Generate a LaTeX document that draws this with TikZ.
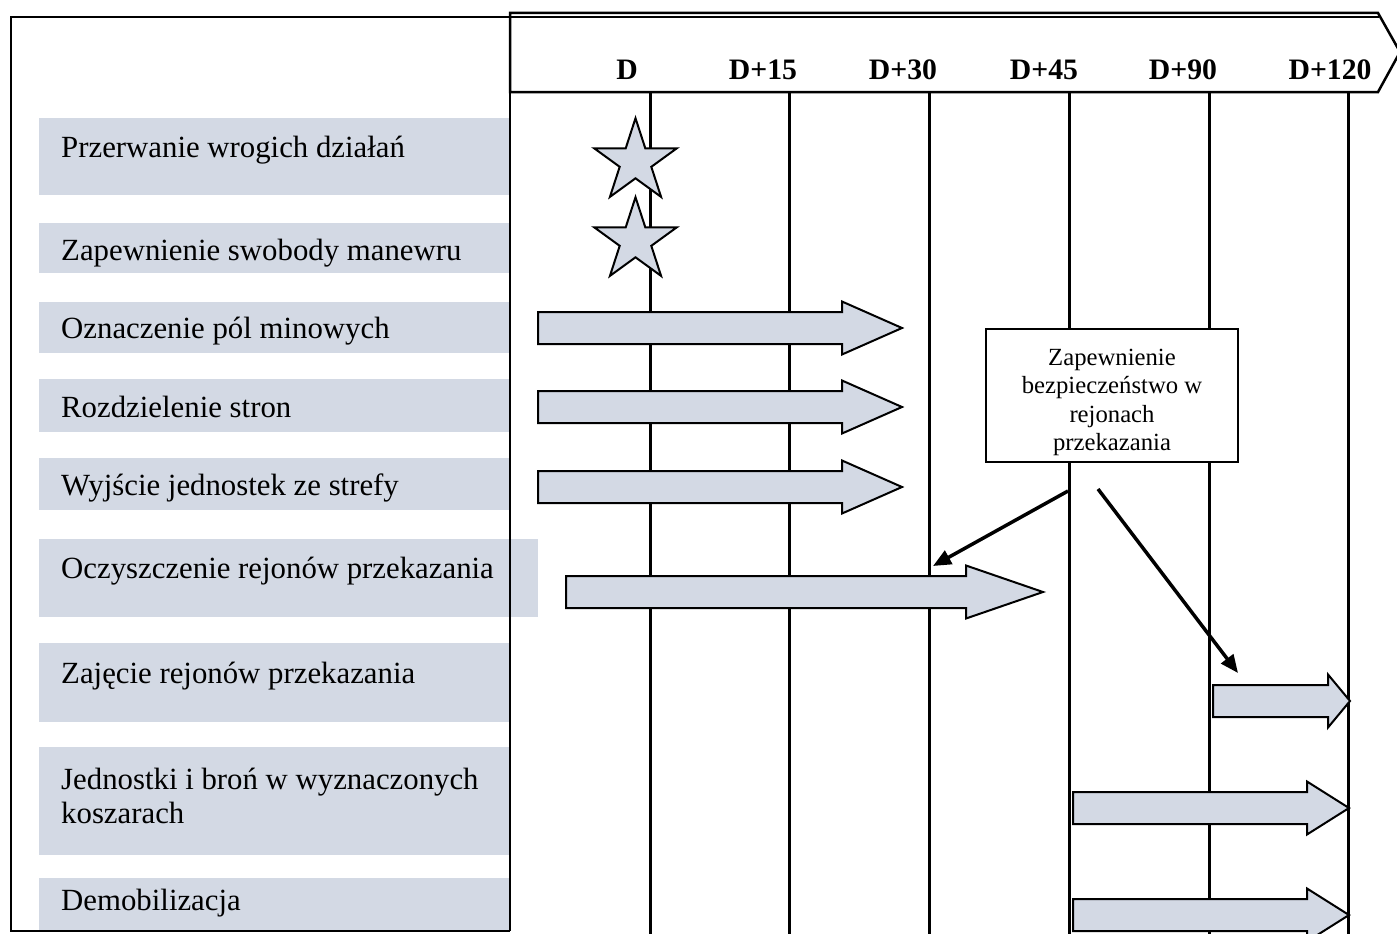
\documentclass[tikz,border=0pt]{standalone}
\usepackage{fontspec}
\setmainfont{Liberation Serif}
\usetikzlibrary{arrows.meta, positioning, shapes.geometric}
\definecolor{bandgray}{RGB}{211,217,228}
\tikzset{
  band/.style={fill=bandgray, inner sep=0pt, anchor=north west},
  lbl/.style={inner sep=0pt, align=left, font=\fontsize{30.8}{33.5}\selectfont},
  daylbl/.style={inner sep=0pt, anchor=base, font=\bfseries\fontsize{29.7}{32}\selectfont},
  frame/.style={line width=2.5pt},
  dayline/.style={line width=3pt},
  blk/.style={draw, fill=bandgray, line width=2pt, line join=miter},
  starmark/.style={star, star points=5, star point ratio=2.618, draw, fill=bandgray, line width=2pt, minimum size=87pt, inner sep=0pt},
  callbox/.style={rectangle, draw, fill=white, line width=2pt, align=center, minimum width=252pt, minimum height=133pt, inner sep=0pt, font=\fontsize{24.7}{28.5}\selectfont},
  line/.style={-{Triangle[length=18pt,width=15pt]}, line width=3.5pt}
}
% block arrow: tail x, head x, tip x, middle y
\newcommand{\blockarrow}[4]{%
  \draw[blk] (#1,#4-16) -- (#2,#4-16) -- (#2,#4-26.5) -- (#3,#4) -- (#2,#4+26.5) -- (#2,#4+16) -- (#1,#4+16) -- cycle;}

\begin{document}
\begin{tikzpicture}[x=1pt, y=-1pt]
    \useasboundingbox (0,0) rectangle (1397,934);
    \clip (0,0) rectangle (1397,934);
    \fill[white] (0,0) rectangle (1397,934);

    % rows on the left
    \foreach \n/\t/\b/\r/\y/\anc/\txt in {
        1/118/195/510/157/base west/{Przerwanie wrogich działań},
        2/223/273/510/260/base west/{Zapewnienie swobody manewru},
        3/302/353/510/338/base west/{Oznaczenie pól minowych},
        4/379/432/510/417/base west/{Rozdzielenie stron},
        5/458/510/510/495/base west/{Wyjście jednostek ze strefy},
        6/539/617/538/578/base west/{Oczyszczenie rejonów przekazania},
        7/643/722/510/683/base west/{Zajęcie rejonów przekazania},
        8/747/855/510/796/west/{Jednostki i broń w wyznaczonych\\koszarach},
        9/878/930/510/910/base west/{Demobilizacja}} {
      \node[band, minimum width={\r-39}, minimum height={\b-\t}] (band\n) at (39,\t) {};
      \node[lbl, anchor=\anc] (row\n) at (61,\y) {\txt};
    }

    % frame and time header
    \draw[frame, fill=white] (510,13) -- (1378,13) -- (1400,52) -- (1378,92) -- (510,92) -- cycle;
    \draw[frame] (1379,17) -- (11,17) -- (11,931) -- (510,931);
    \draw[frame] (510,92) -- (510,931);

    \foreach \lx/\x/\d in {627/650/D, 763/789/D+15, 903/929/D+30, 1044/1069/D+45, 1183/1209/D+90, 1330/1348/D+120} {
      \node[daylbl] (day\x) at (\lx,80) {\d};
      \draw[dayline] (\x,92) -- (\x,934);
    }

    \node[starmark] (star1) at (635.5,161.7) {};
    \node[starmark] (star2) at (635.5,240.7) {};

    \blockarrow{538}{842}{902}{328}
    \blockarrow{538}{842}{902}{407}
    \blockarrow{538}{842}{902}{487}
    \blockarrow{566}{966}{1043}{592}
    \blockarrow{1213}{1328}{1350}{701}
    \blockarrow{1073}{1307}{1349}{808}
    \blockarrow{1073}{1307}{1349}{915}

    \coordinate (hit30) at (933,566);
    \coordinate (hit90) at (1238,673);
    \node[callbox] (callout) at (1112,395.5) {\rule{0pt}{30pt}Zapewnienie\\bezpieczeństwo w\\rejonach\\przekazania};
    \draw[line] ([shift={(-44,28)}]callout.south) -- (hit30);
    \draw[line] ([shift={(-14,26)}]callout.south) -- (hit90);
\end{tikzpicture}
\end{document}
